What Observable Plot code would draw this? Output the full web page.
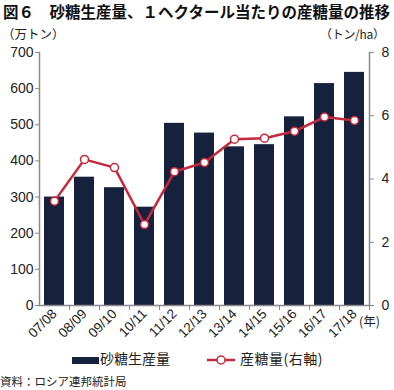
<!DOCTYPE html>
<html><head><meta charset="utf-8">
<script src="https://cdn.jsdelivr.net/npm/d3@7"></script>
<script src="https://cdn.jsdelivr.net/npm/@observablehq/plot@0.6"></script>
<style>
body{margin:0;background:#fff;font-family:"Noto Sans CJK JP",sans-serif;color:#222}
#wrap{position:relative;width:394px;height:390px;overflow:hidden;background:#fff}
.abs{position:absolute;white-space:nowrap;line-height:1.1}
#chart{position:absolute;left:0;top:24px}
</style></head><body>
<div id="wrap">
  <div id="chart"></div>
  <div class="abs" style="left:3px;top:3px;font-size:15.5px;font-weight:bold;color:#111">図６　砂糖生産量、１ヘクタール当たりの産糖量の推移</div>
  <div class="abs" style="left:2px;top:27px;font-size:12.5px">（万トン）</div>
  <div class="abs" style="left:320px;top:27px;font-size:12px;letter-spacing:-0.3px">（トン/ha）</div>
  <div class="abs" style="left:359px;top:314px;font-size:12.5px">(年)</div>
  <div class="abs" style="left:72px;top:357px;width:27px;height:7px;background:#16213d"></div>
  <div class="abs" style="left:100px;top:351px;font-size:14px">砂糖生産量</div>
  <svg class="abs" style="left:206px;top:353px" width="30" height="14"><line x1="1" y1="7" x2="29" y2="7" stroke="#c4293b" stroke-width="2.5"/><circle cx="15" cy="7" r="4" fill="#fff" stroke="#c4293b" stroke-width="1.5"/></svg>
  <div class="abs" style="left:240px;top:351px;font-size:14px;letter-spacing:0.5px">産糖量(右軸)</div>
  <div class="abs" style="left:0px;top:375px;font-size:11.5px">資料：ロシア連邦統計局</div>
</div>
<script>
const years = ["07/08","08/09","09/10","10/11","11/12","12/13","13/14","14/15","15/16","16/17","17/18"];
const production = [300,355,326,272,504,477,439,445,522,614,645];
const yieldPerHa = [3.30,4.62,4.36,2.56,4.23,4.52,5.26,5.29,5.51,5.96,5.85];
const leftTicks = [0,100,200,300,400,500,600,700];
const rightTicks = [0,2,4,6,8];

const k = 700 / 8;
const data = years.map((y, i) => ({year: y, prod: production[i], yld: yieldPerHa[i]}));
const axisColor = "#8a8a8a";
const red = "#c4293b";

const chart = Plot.plot({
  width: 394,
  height: 320,
  marginTop: 28,
  marginBottom: 39,
  marginLeft: 39,
  marginRight: 25,
  style: {fontFamily: "'Liberation Sans', Arial, sans-serif", fontSize: "14px", color: "#222", background: "transparent"},
  x: {type: "band", domain: years, paddingInner: 0.33, paddingOuter: 0.165},
  y: {domain: [0, 700]},
  marks: [
    Plot.barY(data, {x: "year", y: "prod", fill: "#16213d"}),
    Plot.frame({anchor: "left", stroke: axisColor, strokeWidth: 1.5}),
    Plot.frame({anchor: "right", stroke: axisColor, strokeWidth: 1.5}),
    Plot.frame({anchor: "bottom", stroke: axisColor, strokeWidth: 1.5}),
    Plot.axisY({anchor: "left", ticks: leftTicks, tickSize: 4, tickPadding: 2, stroke: axisColor, label: null}),
    Plot.axisY(rightTicks.map(t => t * k), {anchor: "right", tickFormat: d => d / k, tickSize: 4, tickPadding: 8, stroke: axisColor, label: null}),
    Plot.axisX({tickSize: 5, tickFormat: () => "", dx: 15, stroke: axisColor, label: null}),
    Plot.axisX({tickSize: 0, tickPadding: 6, tickRotate: -45, fontSize: 13.5, label: null}),
    Plot.line(data, {x: "year", y: d => d.yld * k, stroke: red, strokeWidth: 2.5}),
    Plot.dot(data, {x: "year", y: d => d.yld * k, r: 4, fill: "#fff", stroke: red, strokeWidth: 1.5})
  ]
});
document.getElementById("chart").appendChild(chart);
</script>
</body></html>
